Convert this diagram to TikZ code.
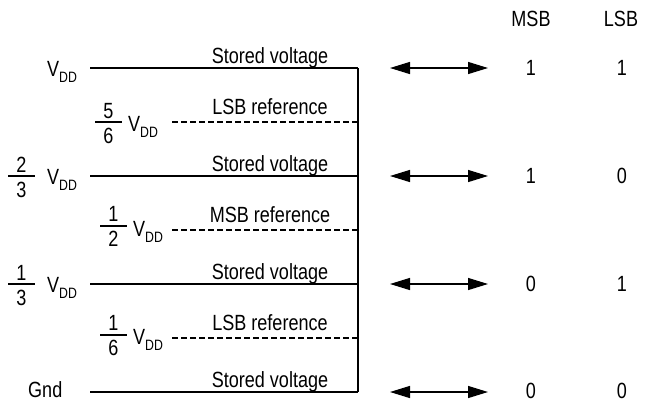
\documentclass[tikz,border=0pt]{standalone}
\usepackage{fontspec}
\setmainfont{Liberation Sans}[FakeStretch=0.82]
\usetikzlibrary{arrows.meta}

\newcommand{\vdd}{V\raisebox{-6pt}{\fontsize{15}{15}\selectfont DD}}

\begin{document}
\begin{tikzpicture}[x=1pt, y=-1pt, font=\fontsize{22}{24}\selectfont]
\tikzstyle{lbl}=[inner sep=0pt, anchor=base west]
\tikzstyle{txt}=[inner sep=0pt, anchor=base]
\tikzstyle{digit}=[inner sep=0pt]
\tikzstyle{stored}=[line width=1.3pt]
\tikzstyle{ref}=[line width=1.2pt, dash pattern=on 5.5pt off 3.5pt]
\tikzstyle{bar}=[line width=1.3pt]
\tikzstyle{level}=[{Triangle[length=20pt,width=12pt]}-{Triangle[length=20pt,width=12pt]}, line width=1.3pt]
\useasboundingbox (0,0) rectangle (650,402);
% left labels
\node[lbl] (v1) at (47,76) {\vdd};
\node[digit] (n56) at (108.5,111) {5}; \node[digit] (d56) at (108.5,136) {6}; \draw[bar] (95,122) -- (122,122);
\node[lbl] (v56) at (128,131) {\vdd};
\node[digit] (n23) at (21.5,165) {2}; \node[digit] (d23) at (21.5,190) {3}; \draw[bar] (8,176) -- (35,176);
\node[lbl] (v23) at (47,184) {\vdd};
\node[digit] (n12) at (113.5,214) {1}; \node[digit] (d12) at (113.5,239) {2}; \draw[bar] (100,226) -- (127,226);
\node[lbl] (v12) at (133,236) {\vdd};
\node[digit] (n13) at (21.5,273) {1}; \node[digit] (d13) at (21.5,298) {3}; \draw[bar] (8,284) -- (35,284);
\node[lbl] (v13) at (47,292) {\vdd};
\node[digit] (n16) at (113.5,323) {1}; \node[digit] (d16) at (113.5,348) {6}; \draw[bar] (100,335) -- (127,335);
\node[lbl] (v16) at (133,344) {\vdd};
\node[lbl] (gnd) at (28,397) {Gnd};
% voltage levels
\coordinate (s1) at (90,68); \coordinate (e1) at (358,68);
\coordinate (r1) at (172,122); \coordinate (f1) at (358,122);
\coordinate (s2) at (90,176); \coordinate (e2) at (358,176);
\coordinate (r2) at (172,230); \coordinate (f2) at (358,230);
\coordinate (s3) at (90,284); \coordinate (e3) at (358,284);
\coordinate (r3) at (172,338); \coordinate (f3) at (358,338);
\coordinate (s4) at (90,392); \coordinate (e4) at (358,392);
\draw[stored] (s1) -- (e1); \draw[stored] (s2) -- (e2); \draw[stored] (s3) -- (e3); \draw[stored] (s4) -- (e4);
\draw[ref] (r1) -- (f1); \draw[ref] (r2) -- (f2); \draw[ref] (r3) -- (f3);
\draw[stored] (e1) -- (e4);
\node[txt] (t1) at (270,63) {Stored voltage};
\node[txt] (t2) at (270,114) {LSB reference};
\node[txt] (t3) at (270,171) {Stored voltage};
\node[txt] (t4) at (270,222) {MSB reference};
\node[txt] (t5) at (270,279) {Stored voltage};
\node[txt] (t6) at (270,330) {LSB reference};
\node[txt] (t7) at (270,387) {Stored voltage};
% read out
\node[digit] (msb) at (531,19) {MSB}; \node[digit] (lsb) at (621,19) {LSB};
\coordinate (a1) at (390,68); \coordinate (b1) at (488,68);
\coordinate (a2) at (390,176); \coordinate (b2) at (488,176);
\coordinate (a3) at (390,284); \coordinate (b3) at (488,284);
\coordinate (a4) at (390,392); \coordinate (b4) at (488,392);
\draw[level] (a1) -- (b1); \draw[level] (a2) -- (b2); \draw[level] (a3) -- (b3); \draw[level] (a4) -- (b4);
\node[digit] (m1) at (531,68) {1}; \node[digit] (l1) at (622,68) {1};
\node[digit] (m2) at (531,176) {1}; \node[digit] (l2) at (622,176) {0};
\node[digit] (m3) at (531,284) {0}; \node[digit] (l3) at (622,284) {1};
\node[digit] (m4) at (531,391) {0}; \node[digit] (l4) at (622,391) {0};
\end{tikzpicture}
\end{document}
